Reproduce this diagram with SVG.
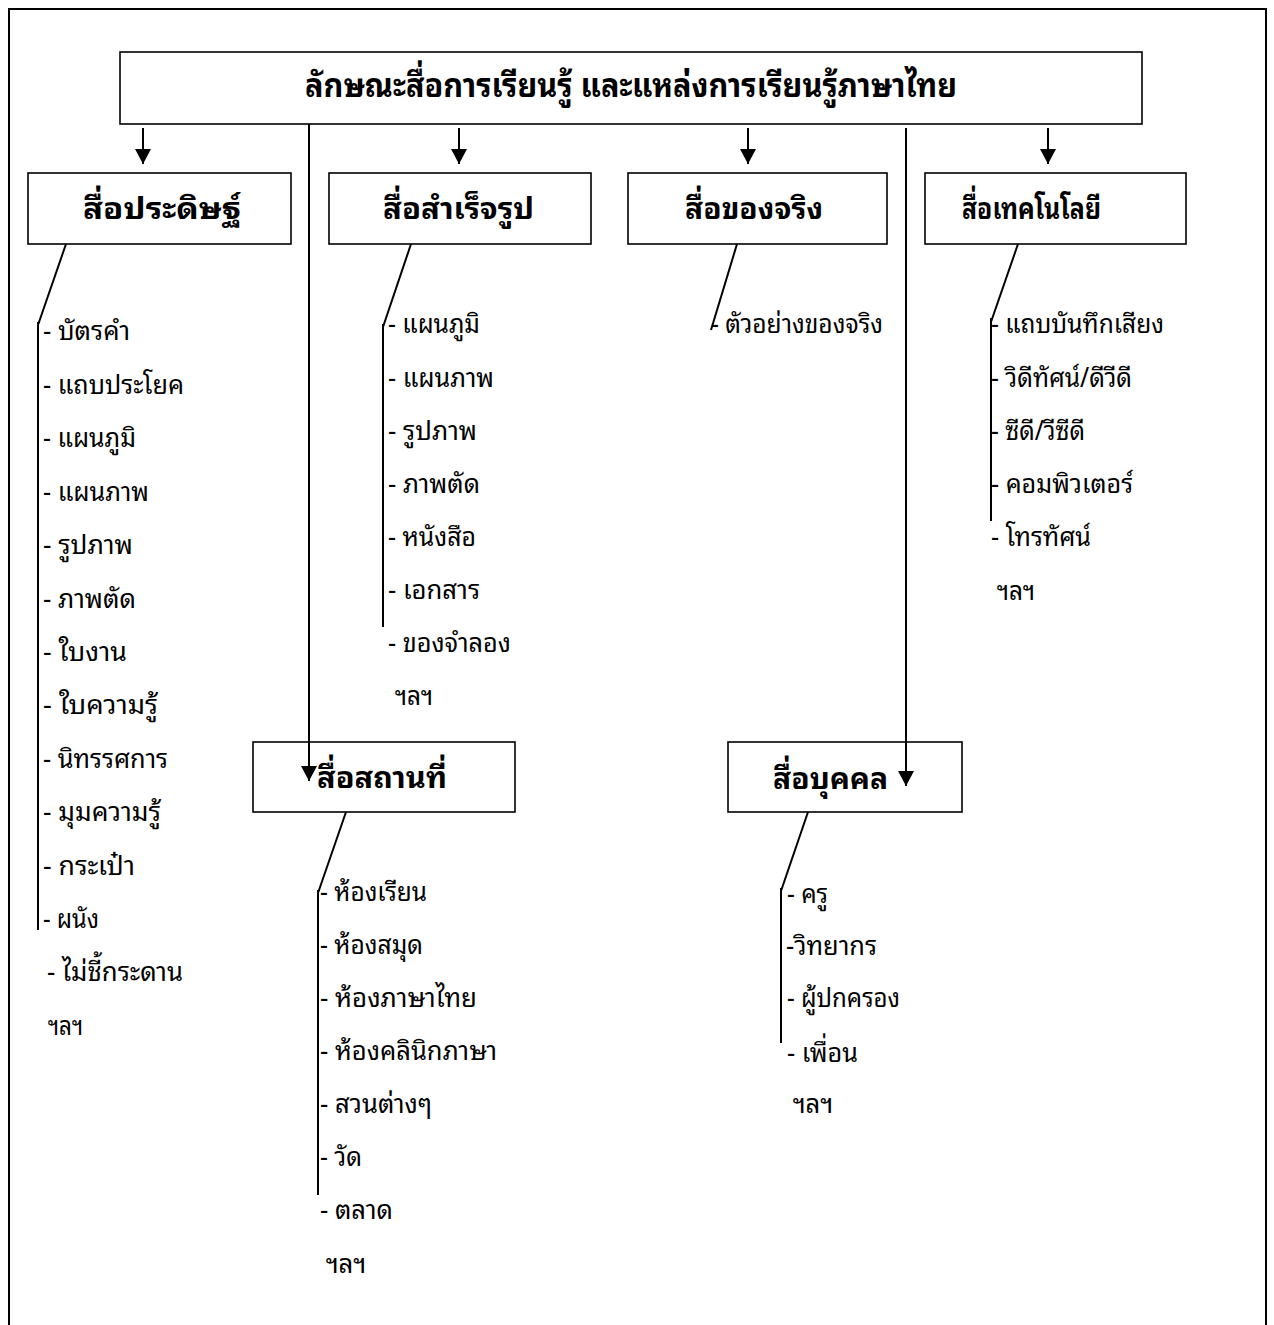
<svg xmlns="http://www.w3.org/2000/svg" width="1274" height="1325" viewBox="0 0 1274 1325">
<defs>
<style>
text{font-family:"Noto Sans Thai Looped","Loma","Garuda","Norasi","Noto Serif Thai","Noto Sans Thai","Noto Sans",sans-serif;fill:#000}
.t{font-size:33px;font-weight:bold}
.h{font-size:30px;font-weight:bold}
.i{font-size:27px}
.box{fill:#fff;stroke:#000;stroke-width:1.6}
.ln{fill:none;stroke:#000;stroke-width:2}
</style>
<marker id="ah" viewBox="0 0 15 16" refX="15" refY="8" markerWidth="15" markerHeight="16" markerUnits="userSpaceOnUse" orient="auto"><path d="M0,0 L15,8 L0,16 z" fill="#000"/></marker>
</defs>
<rect width="1274" height="1325" fill="#fff"/>
<path d="M9,1325 V9 H1266 V1325" fill="none" stroke="#000" stroke-width="2"/>

<g id="title">
<rect class="box" x="120" y="52" width="1022" height="72"/>
<text class="t" x="305" y="97" textLength="652" lengthAdjust="spacingAndGlyphs">ลักษณะสื่อการเรียนรู้ และแหล่งการเรียนรู้ภาษาไทย</text>
</g>

<g id="node-pradit">
<rect class="box" x="28" y="173" width="263" height="71"/>
<text class="h" x="83" y="219" textLength="158" lengthAdjust="spacingAndGlyphs">สื่อประดิษฐ์</text>
<text class="i" x="43" y="340" textLength="87" lengthAdjust="spacingAndGlyphs">- บัตรคำ</text>
<text class="i" x="43" y="393.5" textLength="141" lengthAdjust="spacingAndGlyphs">- แถบประโยค</text>
<text class="i" x="43" y="447" textLength="93" lengthAdjust="spacingAndGlyphs">- แผนภูมิ</text>
<text class="i" x="43" y="500.5" textLength="106" lengthAdjust="spacingAndGlyphs">- แผนภาพ</text>
<text class="i" x="43" y="554" textLength="90" lengthAdjust="spacingAndGlyphs">- รูปภาพ</text>
<text class="i" x="43" y="607.5" textLength="93" lengthAdjust="spacingAndGlyphs">- ภาพตัด</text>
<text class="i" x="43" y="661" textLength="84" lengthAdjust="spacingAndGlyphs">- ใบงาน</text>
<text class="i" x="43" y="714" textLength="115" lengthAdjust="spacingAndGlyphs">- ใบความรู้</text>
<text class="i" x="43" y="768" textLength="125" lengthAdjust="spacingAndGlyphs">- นิทรรศการ</text>
<text class="i" x="43" y="821" textLength="118" lengthAdjust="spacingAndGlyphs">- มุมความรู้</text>
<text class="i" x="43" y="875" textLength="92" lengthAdjust="spacingAndGlyphs">- กระเป๋า</text>
<text class="i" x="43" y="928" textLength="56" lengthAdjust="spacingAndGlyphs">- ผนัง</text>
<text class="i" x="47" y="981" textLength="136" lengthAdjust="spacingAndGlyphs">- ไม่ชี้กระดาน</text>
<text class="i" x="48" y="1035" textLength="35" lengthAdjust="spacingAndGlyphs">ฯลฯ</text>
</g>

<g id="node-samret">
<rect class="box" x="329" y="173" width="262" height="71"/>
<text class="h" x="383" y="219" textLength="151" lengthAdjust="spacingAndGlyphs">สื่อสำเร็จรูป</text>
<text class="i" x="388" y="333" textLength="92" lengthAdjust="spacingAndGlyphs">- แผนภูมิ</text>
<text class="i" x="388" y="386.5" textLength="106" lengthAdjust="spacingAndGlyphs">- แผนภาพ</text>
<text class="i" x="388" y="440" textLength="89" lengthAdjust="spacingAndGlyphs">- รูปภาพ</text>
<text class="i" x="388" y="493" textLength="92" lengthAdjust="spacingAndGlyphs">- ภาพตัด</text>
<text class="i" x="388" y="546" textLength="88" lengthAdjust="spacingAndGlyphs">- หนังสือ</text>
<text class="i" x="388" y="599" textLength="92" lengthAdjust="spacingAndGlyphs">- เอกสาร</text>
<text class="i" x="388" y="652" textLength="123" lengthAdjust="spacingAndGlyphs">- ของจำลอง</text>
<text class="i" x="395" y="705" textLength="38" lengthAdjust="spacingAndGlyphs">ฯลฯ</text>
</g>

<g id="node-khongching">
<rect class="box" x="628" y="173" width="259" height="71"/>
<text class="h" x="685" y="219" textLength="138" lengthAdjust="spacingAndGlyphs">สื่อของจริง</text>
<text class="i" x="711" y="333" textLength="172" lengthAdjust="spacingAndGlyphs">- ตัวอย่างของจริง</text>
</g>

<g id="node-technology">
<rect class="box" x="925" y="173" width="261" height="71"/>
<text class="h" x="962" y="219" textLength="139" lengthAdjust="spacingAndGlyphs">สื่อเทคโนโลยี</text>
<text class="i" x="991" y="333" textLength="173" lengthAdjust="spacingAndGlyphs">- แถบบันทึกเสียง</text>
<text class="i" x="991" y="386.5" textLength="141" lengthAdjust="spacingAndGlyphs">- วิดีทัศน์/ดีวีดี</text>
<text class="i" x="991" y="440" textLength="94" lengthAdjust="spacingAndGlyphs">- ซีดี/วีซีดี</text>
<text class="i" x="991" y="493" textLength="142" lengthAdjust="spacingAndGlyphs">- คอมพิวเตอร์</text>
<text class="i" x="991" y="546" textLength="100" lengthAdjust="spacingAndGlyphs">- โทรทัศน์</text>
<text class="i" x="997" y="600" textLength="38" lengthAdjust="spacingAndGlyphs">ฯลฯ</text>
</g>

<g id="node-sathanthi">
<rect class="box" x="253" y="742" width="262" height="70"/>
<text class="h" x="317" y="788" textLength="130" lengthAdjust="spacingAndGlyphs">สื่อสถานที่</text>
<text class="i" x="320" y="901" textLength="107" lengthAdjust="spacingAndGlyphs">- ห้องเรียน</text>
<text class="i" x="320" y="954" textLength="103" lengthAdjust="spacingAndGlyphs">- ห้องสมุด</text>
<text class="i" x="320" y="1007" textLength="157" lengthAdjust="spacingAndGlyphs">- ห้องภาษาไทย</text>
<text class="i" x="320" y="1060" textLength="177" lengthAdjust="spacingAndGlyphs">- ห้องคลินิกภาษา</text>
<text class="i" x="320" y="1113" textLength="112" lengthAdjust="spacingAndGlyphs">- สวนต่างๆ</text>
<text class="i" x="320" y="1166" textLength="42" lengthAdjust="spacingAndGlyphs">- วัด</text>
<text class="i" x="320" y="1219" textLength="73" lengthAdjust="spacingAndGlyphs">- ตลาด</text>
<text class="i" x="326" y="1273" textLength="40" lengthAdjust="spacingAndGlyphs">ฯลฯ</text>
</g>

<g id="node-bukkhon">
<rect class="box" x="728" y="742" width="234" height="70"/>
<text class="h" x="773" y="789" textLength="115" lengthAdjust="spacingAndGlyphs">สื่อบุคคล</text>
<text class="i" x="787" y="903" textLength="41" lengthAdjust="spacingAndGlyphs">- ครู</text>
<text class="i" x="786" y="955" textLength="91" lengthAdjust="spacingAndGlyphs">-วิทยากร</text>
<text class="i" x="787" y="1007" textLength="113" lengthAdjust="spacingAndGlyphs">- ผู้ปกครอง</text>
<text class="i" x="787" y="1062" textLength="71" lengthAdjust="spacingAndGlyphs">- เพื่อน</text>
<text class="i" x="793" y="1113" textLength="40" lengthAdjust="spacingAndGlyphs">ฯลฯ</text>
</g>

<g id="connectors">
<line class="ln" x1="143" y1="128" x2="143" y2="164" marker-end="url(#ah)"/>
<line class="ln" x1="459" y1="128" x2="459" y2="164" marker-end="url(#ah)"/>
<line class="ln" x1="748" y1="128" x2="748" y2="164" marker-end="url(#ah)"/>
<line class="ln" x1="1048" y1="128" x2="1048" y2="164" marker-end="url(#ah)"/>
<line class="ln" x1="309" y1="124" x2="309" y2="781" marker-end="url(#ah)"/>
<line class="ln" x1="906" y1="128" x2="906" y2="786" marker-end="url(#ah)"/>
<path class="ln" d="M66,244 L38,325 M38,322 V930"/>
<path class="ln" d="M411,244 L383,327 M383,324 V627"/>
<path class="ln" d="M737,244 L711,330"/>
<path class="ln" d="M1018,244 L991,322 M991,318 V521"/>
<path class="ln" d="M346,812 L318,893 M318,890 V1195"/>
<path class="ln" d="M808,812 L781,891 M781,888 V1043"/>
</g>
</svg>
